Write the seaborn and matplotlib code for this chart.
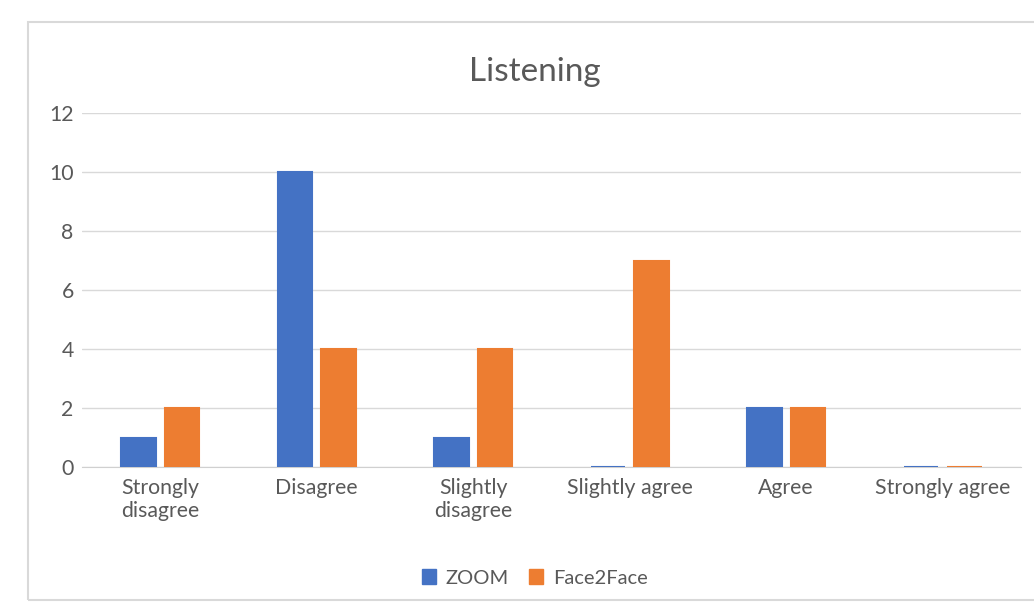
import pandas as pd
import numpy as np
import matplotlib.pyplot as plt
import seaborn as sns
from matplotlib.patches import Rectangle, Patch

# data
categories = ['Strongly disagree', 'Disagree', 'Slightly disagree',
              'Slightly agree', 'Agree', 'Strongly agree']
tick_labels = ['Strongly\ndisagree', 'Disagree', 'Slightly\ndisagree',
               'Slightly agree', 'Agree', 'Strongly agree']
zoom_vals = [1, 10, 1, 0, 2, 0]
f2f_vals = [2, 4, 4, 7, 2, 0]
series = ['ZOOM', 'Face2Face']
colors = ['#4472C4', '#ED7D31']

df = pd.DataFrame({
    'Response': categories * 2,
    'Count': zoom_vals + f2f_vals,
    'Mode': [series[0]] * len(categories) + [series[1]] * len(categories),
})

sns.set_style('white')
plt.rcParams['font.family'] = ['Lato', 'DejaVu Sans']

fig = plt.figure(figsize=(10.34, 6.10), dpi=100)
ax = fig.add_axes([82 / 1034, 1 - 467 / 610, (1021 - 82) / 1034, (467 - 113) / 610])

sns.barplot(data=df, x='Response', y='Count', hue='Mode', order=categories,
            hue_order=series, palette=colors, width=0.56, gap=0.21,
            saturation=1, legend=False, ax=ax, linewidth=1.5)
# zero bars show as a thin line like in the original
for bar, c in zip(ax.patches, [colors[0]] * 6 + [colors[1]] * 6):
    bar.set_edgecolor(c)

ax.set_ylim(0, 12)
ax.set_yticks(np.arange(0, 13, 2))
ax.set_xlim(-0.5, len(categories) - 0.5)
ax.set_xticks(range(len(categories)))
ax.set_xticklabels(tick_labels)
ax.grid(axis='y', color='#d9d9d9', linewidth=1)
ax.set_axisbelow(True)
for s in ['top', 'right', 'left']:
    ax.spines[s].set_visible(False)
ax.spines['bottom'].set_color('#d0d0d0')
ax.spines['bottom'].set_zorder(0.5)
ax.tick_params(axis='x', length=0, labelsize=15.3, labelcolor='#595959', pad=8)
ax.tick_params(axis='y', length=0, labelsize=15.3, labelcolor='#595959', pad=6)
ax.set_xlabel('')
ax.set_ylabel('')

fig.text(535 / 1034, 1 - 72 / 610, 'Listening', ha='center', va='center',
         fontsize=24, color='#595959')

handles = [Patch(facecolor=c, edgecolor=c) for c in colors]
fig.legend(handles, series, loc='center', bbox_to_anchor=(535 / 1034, 1 - 578 / 610),
           ncol=2, frameon=False, fontsize=14.5, labelcolor='#595959',
           handlelength=0.7, handleheight=0.7, handletextpad=0.5, columnspacing=1.0)

# chart border
fig.patches.append(Rectangle((28 / 1034, 1 - 600 / 610), 1.1, (600 - 22) / 610,
                             transform=fig.transFigure, fill=False,
                             edgecolor='#d9d9d9', linewidth=1.5))

fig.savefig('out.png', dpi=100)
